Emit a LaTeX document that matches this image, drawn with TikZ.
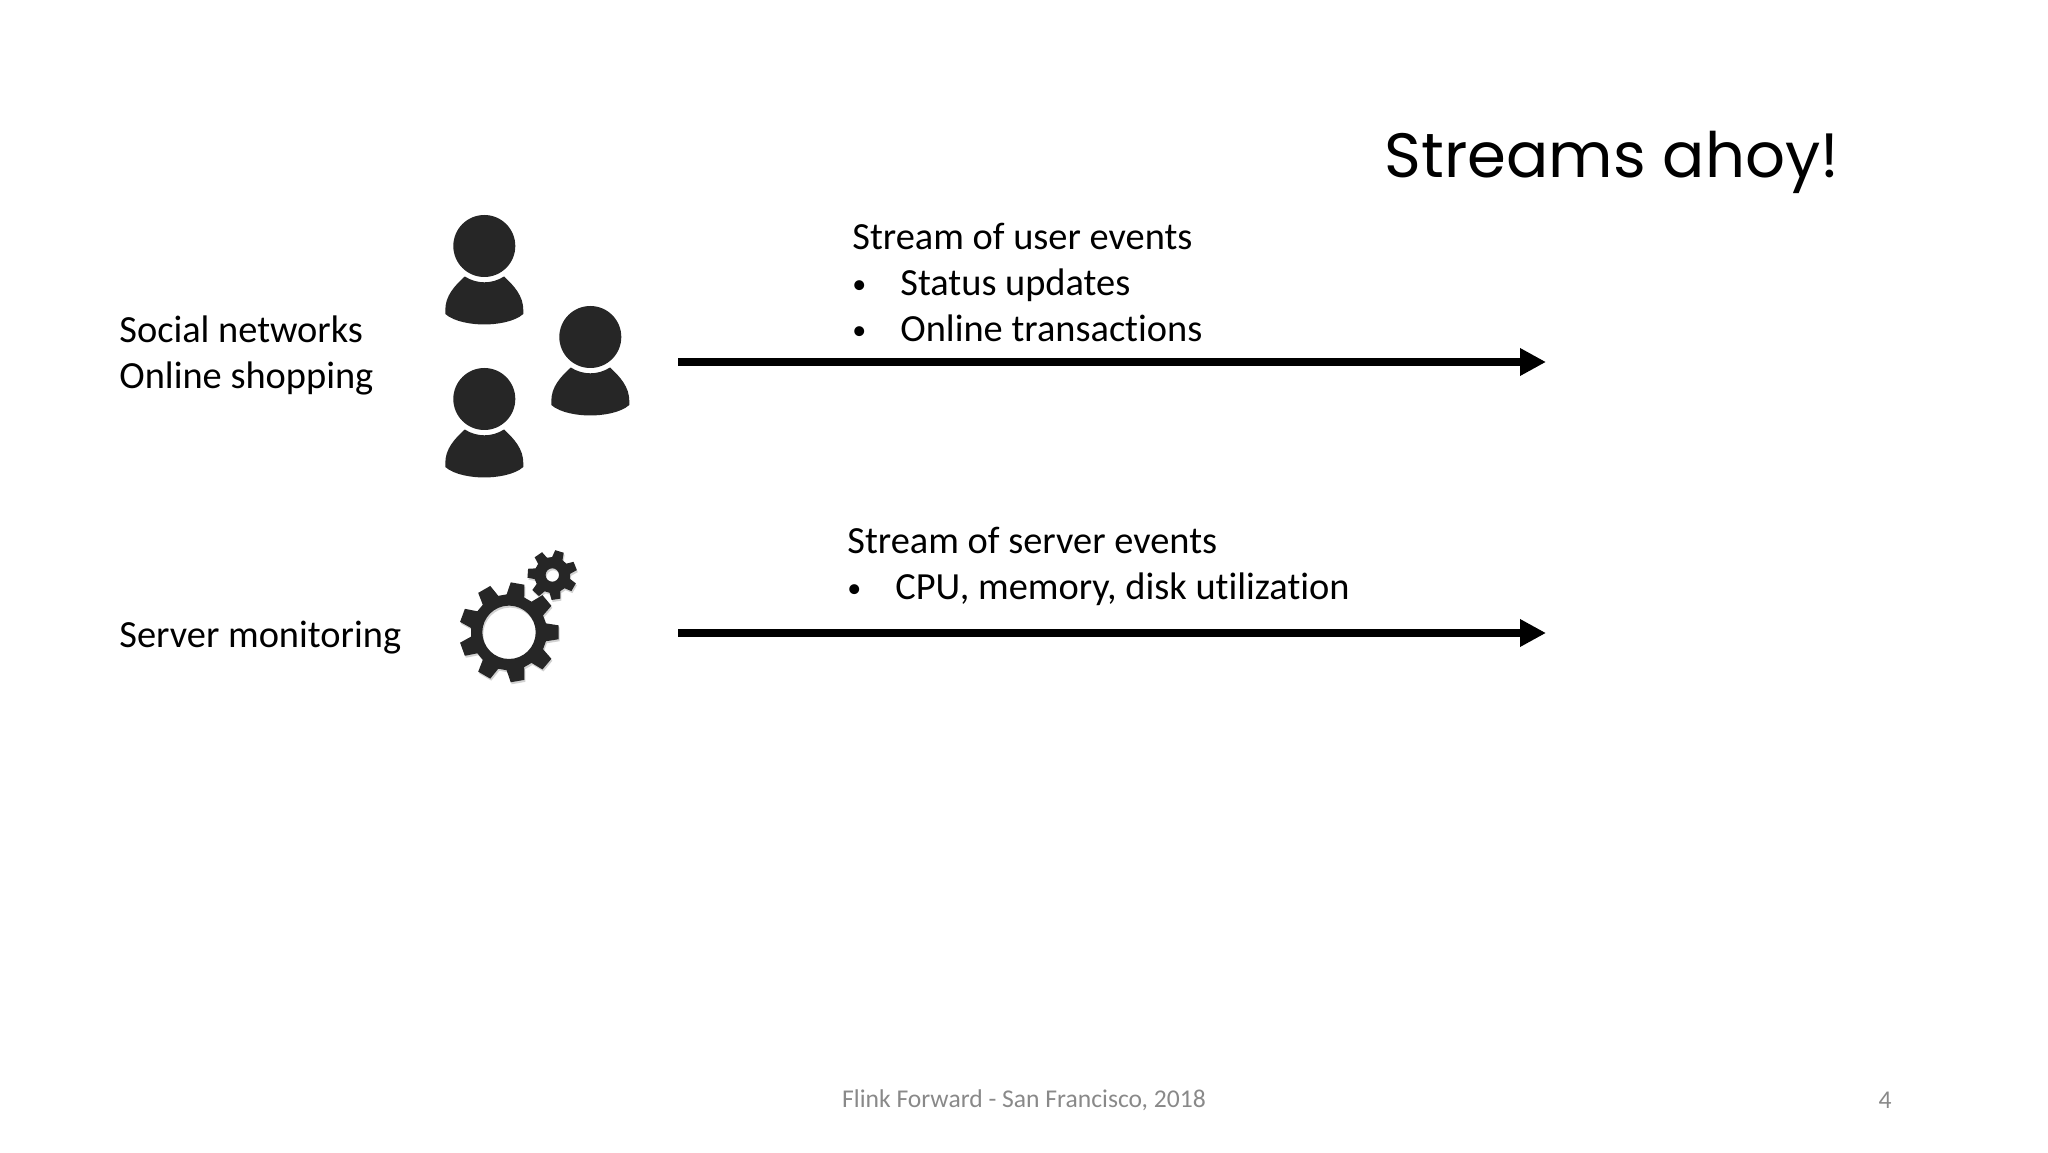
\documentclass[tikz,border=0pt]{standalone}
\usepackage{fontspec}
\setmainfont[Ligatures=NoCommon]{Carlito}
\newfontfamily\titlefont{Poppins}
\usetikzlibrary{arrows.meta}
\definecolor{icongray}{HTML}{262626}
\definecolor{footgray}{HTML}{898989}
\tikzset{
  bodytext/.style={anchor=west, align=left, inner sep=0pt, font=\fontsize{19.2}{23}\selectfont},
  foottext/.style={inner sep=0pt, text=footgray, font=\fontsize{12.8}{14}\selectfont},
  streamarrow/.style={line width=4pt, -{Triangle[length=13pt,width=13pt]}},
  person/.pic={
    \fill [icongray] (0,0) circle (31);
    \fill [icongray] (-19.5,-30.5) arc (237:303:36) .. controls (30,-40) and (39,-50) .. (39,-64)
      -- (39,-68) .. controls (30,-76) and (12,-78.5) .. (0,-78.5)
      .. controls (-12,-78.5) and (-30,-76) .. (-39,-68) -- (-39,-64)
      .. controls (-39,-50) and (-30,-40) .. (-19.5,-30.5) -- cycle;
  }
}
\newcommand{\bulletline}[1]{\makebox[24pt][l]{\raisebox{0.8pt}{\fontsize{14}{14}\selectfont\textbullet}}#1}
% one gear: #1 center, #2 teeth, #3 outer radius, #4 root radius, #5 hole, #6 first tooth angle, #7 colour
\newcommand{\geardraw}[7]{
  \pgfmathsetmacro{\gearstep}{360/#2}
  \pgfmathsetmacro{\gearlast}{#2-1}
  \fill [#7, even odd rule, shift={#1}]
    (#6-0.34*\gearstep:#4)
    \foreach \i in {0,...,\gearlast}{
      -- (#6+\i*\gearstep-0.34*\gearstep:#4)
      -- (#6+\i*\gearstep-0.2*\gearstep:#3)
      -- (#6+\i*\gearstep+0.2*\gearstep:#3)
      -- (#6+\i*\gearstep+0.34*\gearstep:#4)
    } -- cycle (0,0) circle (#5);
}
\begin{document}
\begin{tikzpicture}[x=0.5pt,y=0.5pt]
\useasboundingbox (0,0) rectangle (2048,1152);

\node [anchor=center, inner sep=0pt, font=\titlefont\fontsize{31.3}{34}\selectfont] (title) at (1612,990) {Streams ahoy!};

\node [bodytext] (social) at (119,796.5) {Social networks\\Online shopping};
\node [bodytext] (server) at (119,514) {Server monitoring};

\node [bodytext] (userevents) at (852,869.5) {Stream of user events\\\bulletline{Status updates}\\\bulletline{Online transactions}};
\node [bodytext] (serverevents) at (847,585.5) {Stream of server events\\\bulletline{CPU, memory, disk utilization}};

\pic at (484.3,906) {person};
\pic at (590.3,815) {person};
\pic at (484.3,753) {person};

%soft shadow under the gears
\geardraw{(510,517.7)}{9}{50}{38}{26.7}{0}{gray!35}
\geardraw{(553.3,575)}{7}{25}{18}{6.7}{21.6}{gray!35}
\geardraw{(509,519.7)}{9}{50}{38}{26.7}{0}{icongray}
\geardraw{(552.3,577)}{7}{25}{18}{6.7}{21.6}{icongray}

\coordinate (userstart) at (678,790);
\coordinate (userend) at (1546,790);
\coordinate (serverstart) at (678,519);
\coordinate (serverend) at (1546,519);
\draw [streamarrow] (userstart) -- (userend);
\draw [streamarrow] (serverstart) -- (serverend);

\node [foottext] (footer) at (1024,52) {Flink Forward - San Francisco, 2018};
\node [foottext] (pagenum) at (1885,52) {4};
\end{tikzpicture}
\end{document}
